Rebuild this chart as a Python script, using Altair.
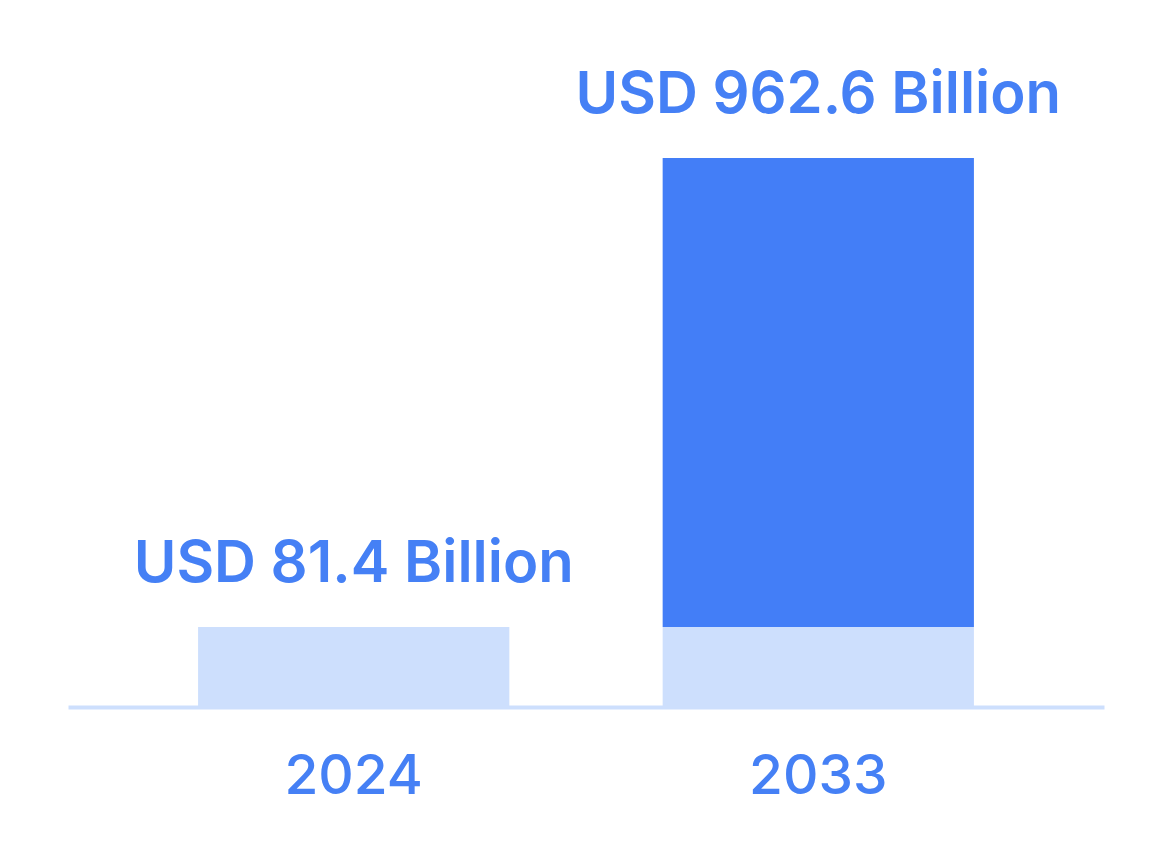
import altair as alt
import pandas as pd

years = ["2024", "2033"]
values = [81.4, 962.6]
labels = ["USD 81.4 Billion", "USD 962.6 Billion"]

LIGHT = "#cddffd"
DARK = "#437ef7"
TEXT = "#4580f5"

# segments: base (value of first year) and growth above it
seg_rows = []
for y, v in zip(years, values):
    base = min(v, values[0])
    seg_rows.append({"year": y, "segment": "base", "start": 0, "end": base})
    if v > base:
        seg_rows.append({"year": y, "segment": "growth", "start": base, "end": v})
seg = pd.DataFrame(seg_rows)
lab = pd.DataFrame({"year": years, "value": values, "label": labels})

yscale = alt.Scale(type="pow", exponent=0.78, domain=[0, 1235.4], nice=False, zero=True)
xscale = alt.Scale(domain=years, paddingInner=0.33, paddingOuter=0.28)

bars = alt.Chart(seg).mark_bar().encode(
    x=alt.X("year:N", scale=xscale, sort=years,
            axis=alt.Axis(title=None, labels=False, ticks=False,
                          domainColor=LIGHT, domainWidth=4)),
    y=alt.Y("start:Q", scale=yscale, axis=None),
    y2="end:Q",
    color=alt.Color("segment:N", scale=alt.Scale(domain=["base", "growth"], range=[LIGHT, DARK]), legend=None),
)

text = alt.Chart(lab).mark_text(
    font="Inter", fontSize=58, fontWeight=600, color=TEXT, baseline="alphabetic", dy=-45
).encode(
    x=alt.X("year:N", scale=xscale, sort=years),
    y=alt.Y("value:Q", scale=yscale),
    text="label:N",
)

year_text = alt.Chart(lab).mark_text(
    font="Inter", fontSize=55, fontWeight=500, color=TEXT, baseline="alphabetic", dy=87
).encode(
    x=alt.X("year:N", scale=xscale, sort=years),
    y=alt.datum(0, scale=yscale),
    text="year:N",
)

chart = alt.layer(bars, text, year_text).properties(
    width=1036, height=667,
    autosize=alt.AutoSizeParams(type="none"),
    padding={"left": 60, "top": 32, "right": 40, "bottom": 120},
    background="white",
).configure_view(stroke=None)

chart.save("out.html", embed_options={"renderer": "svg", "actions": False})
